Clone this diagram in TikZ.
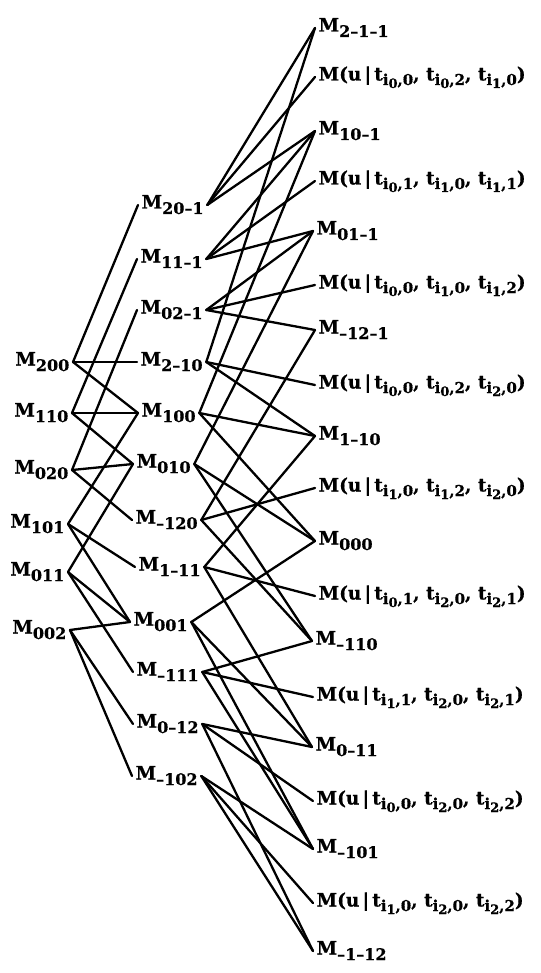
\documentclass[tikz,border=0pt]{standalone}
\usepackage{fontspec}
\setmainfont{DejaVu Serif}[BoldFeatures={FakeBold=0.6}]
\newcommand{\Msb}[1]{\raisebox{-5.5pt}{\fontsize{16}{16}\selectfont #1}}
\newcommand{\Tsb}[1]{\raisebox{-4.5pt}{\fontsize{15}{15}\selectfont #1}}
\newcommand{\Tssb}[1]{\raisebox{-3pt}{\fontsize{13}{13}\selectfont #1}}
\newcommand{\Tv}[2]{t\Tsb{i\Tssb{#1},#2}}
\newcommand{\Mu}[6]{M(u\,|\,\Tv{#1}{#2}, \Tv{#3}{#4}, \Tv{#5}{#6})}
\newcommand{\Mi}[1]{M\Msb{#1}}
\begin{document}
\begin{tikzpicture}[x=1pt,y=-1pt,
  lab/.style={font=\fontsize{18.5}{18.5}\selectfont\bfseries, inner xsep=3.5pt, inner ysep=0pt, text height=13pt, text depth=6pt},
  edge/.style={line width=2.3pt, line cap=round}]
\useasboundingbox[fill=white] (0,0) rectangle (540,973);
% left column
\node[lab,anchor=east] (a200) at (73,362) {\Mi{200}};
\node[lab,anchor=east] (a110) at (72,413) {\Mi{110}};
\node[lab,anchor=east] (a020) at (72,470) {\Mi{020}};
\node[lab,anchor=east] (a101) at (68,524) {\Mi{101}};
\node[lab,anchor=east] (a011) at (68,572) {\Mi{011}};
\node[lab,anchor=east] (a002) at (70,630) {\Mi{002}};
% middle column
\node[lab,anchor=west] (b20n1) at (138,205) {\Mi{20–1}};
\node[lab,anchor=west] (b11n1) at (137,259) {\Mi{11–1}};
\node[lab,anchor=west] (b02n1) at (137,310) {\Mi{02–1}};
\node[lab,anchor=west] (b2n10) at (137,362) {\Mi{2–10}};
\node[lab,anchor=west] (b100) at (138,413) {\Mi{100}};
\node[lab,anchor=west] (b010) at (133,464) {\Mi{010}};
\node[lab,anchor=west] (bn120) at (132,520) {\Mi{–120}};
\node[lab,anchor=west] (b1n11) at (135,567) {\Mi{1–11}};
\node[lab,anchor=west] (b001) at (130,622) {\Mi{001}};
\node[lab,anchor=west] (bn111) at (133,672) {\Mi{–111}};
\node[lab,anchor=west] (b0n12) at (133,724) {\Mi{0–12}};
\node[lab,anchor=west] (bn102) at (132,776) {\Mi{–102}};
% right column
\node[lab,anchor=west] (c2n1n1) at (315,28) {\Mi{2–1–1}};
\node[lab,anchor=west] (u1) at (315,77) {\Mu{0}{0}{0}{2}{1}{0}};
\node[lab,anchor=west] (c10n1) at (315,131) {\Mi{10–1}};
\node[lab,anchor=west] (u2) at (315,181) {\Mu{0}{1}{1}{0}{1}{1}};
\node[lab,anchor=west] (c01n1) at (313,231) {\Mi{01–1}};
\node[lab,anchor=west] (u3) at (315,285) {\Mu{0}{0}{1}{0}{1}{2}};
\node[lab,anchor=west] (cn12n1) at (315,330) {\Mi{–12–1}};
\node[lab,anchor=west] (u4) at (315,385) {\Mu{0}{0}{0}{2}{2}{0}};
\node[lab,anchor=west] (c1n10) at (315,436) {\Mi{1–10}};
\node[lab,anchor=west] (u5) at (315,488) {\Mu{1}{0}{1}{2}{2}{0}};
\node[lab,anchor=west] (c000) at (315,541) {\Mi{000}};
\node[lab,anchor=west] (u6) at (315,596) {\Mu{0}{1}{2}{0}{2}{1}};
\node[lab,anchor=west] (cn110) at (312,641) {\Mi{–110}};
\node[lab,anchor=west] (u7) at (313,697) {\Mu{1}{1}{2}{0}{2}{1}};
\node[lab,anchor=west] (c0n11) at (312,747) {\Mi{0–11}};
\node[lab,anchor=west] (u8) at (313,801) {\Mu{0}{0}{2}{0}{2}{2}};
\node[lab,anchor=west] (cn101) at (313,849) {\Mi{–101}};
\node[lab,anchor=west] (u9) at (313,903) {\Mu{1}{0}{2}{0}{2}{2}};
\node[lab,anchor=west] (cn1n12) at (313,951) {\Mi{–1–12}};
% left -> middle
\foreach \p/\q in {a200/b20n1, a200/b2n10, a200/b100,
  a110/b11n1, a110/b100, a110/b010,
  a020/b02n1, a020/b010, a020/bn120,
  a101/b100, a101/b1n11, a101/b001,
  a011/b010, a011/bn111, a011/b001,
  a002/b001, a002/b0n12, a002/bn102}
  \draw[edge] (\p.east) -- (\q.west);
% middle -> right
\foreach \p/\q in {b20n1/c2n1n1, b20n1/u1, b20n1/c10n1,
  b11n1/c10n1, b11n1/u2, b11n1/c01n1,
  b02n1/c01n1, b02n1/u3, b02n1/cn12n1,
  b2n10/c2n1n1, b2n10/u4, b2n10/c1n10,
  b100/c10n1, b100/c1n10, b100/c000,
  b010/c01n1, b010/c000, b010/cn110,
  bn120/cn12n1, bn120/u5, bn120/cn110,
  b1n11/c1n10, b1n11/u6, b1n11/c0n11,
  b001/c000, b001/c0n11, b001/cn101,
  bn111/cn110, bn111/u7, bn111/cn101,
  b0n12/c0n11, b0n12/u8, b0n12/cn1n12,
  bn102/cn101, bn102/u9, bn102/cn1n12}
  \draw[edge] (\p.east) -- (\q.west);
\end{tikzpicture}
\end{document}
